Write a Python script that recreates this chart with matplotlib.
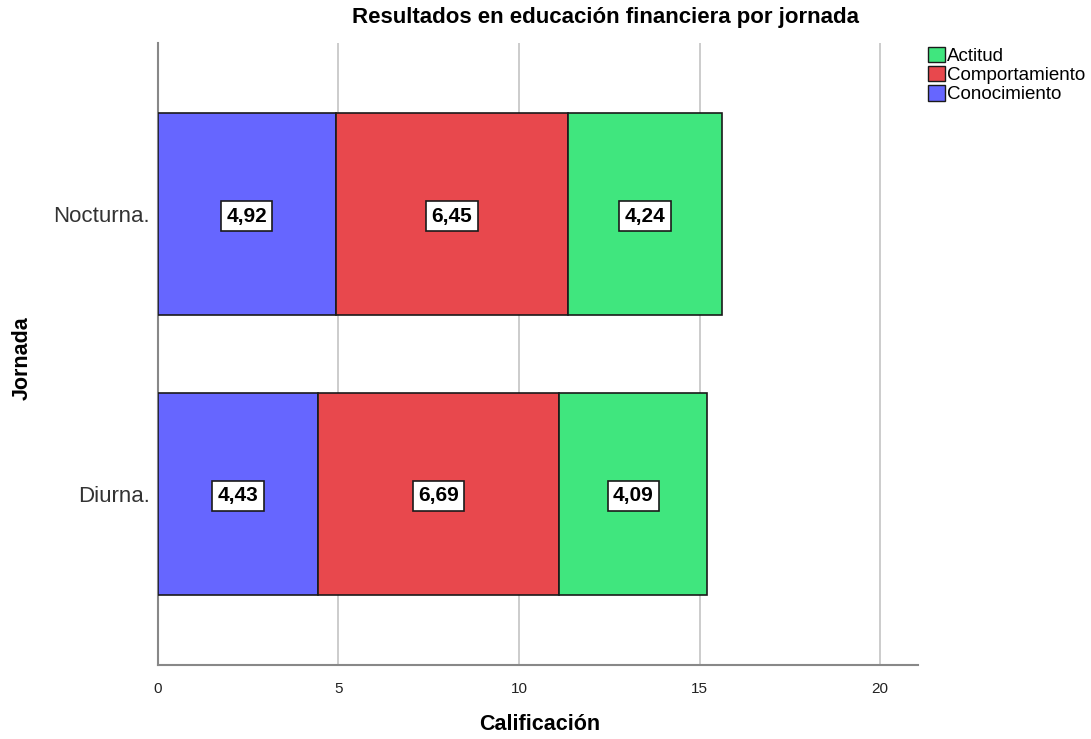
import matplotlib.pyplot as plt
from matplotlib.patches import Patch

plt.rcParams['font.family'] = ['Liberation Sans', 'DejaVu Sans']

jornadas = ['Diurna.', 'Nocturna.']
conocimiento = [4.43, 4.92]
comportamiento = [6.69, 6.45]
actitud = [4.09, 4.24]

series = [('Conocimiento', conocimiento, '#6666FF'),
          ('Comportamiento', comportamiento, '#E8484D'),
          ('Actitud', actitud, '#40E67E')]

fig = plt.figure(figsize=(10.91, 7.39), dpi=100)
ax = fig.add_axes([0.1448, 0.1001, 0.6966, 0.8417])

ypos = list(range(len(jornadas)))
left = [0.0] * len(jornadas)
for name, vals, col in series:
    ax.barh(ypos, vals, left=left, height=0.72, color=col,
            edgecolor='#1a1a1a', linewidth=1.2, zorder=3)
    for y, l, v in zip(ypos, left, vals):
        ax.text(l + v / 2, y, f'{v:.2f}'.replace('.', ','), ha='center', va='center_baseline',
                fontsize=15, fontweight='bold', zorder=5,
                bbox=dict(boxstyle='square,pad=0.25', fc='white', ec='#1a1a1a', lw=1.2))
    left = [a + b for a, b in zip(left, vals)]

ax.set_xlim(0, 21.05)
ax.set_ylim(-0.611, 1.611)
ax.set_xticks([0, 5, 10, 15, 20])
ax.set_yticks(ypos)
ax.set_yticklabels(jornadas, fontsize=16, color='#333333')
ax.tick_params(axis='x', labelsize=11, length=0, pad=12, colors='#222222')
ax.tick_params(axis='y', length=0, pad=6)
ax.xaxis.grid(True, color='#c8c8c8', linewidth=1.3, zorder=0)
ax.set_axisbelow(True)
for s in ['top', 'right']:
    ax.spines[s].set_visible(False)
for s in ['left', 'bottom']:
    ax.spines[s].set_color('#888888')
    ax.spines[s].set_linewidth(1.5)

fig.text(540 / 1091, 1 - 724 / 739, 'Calificación', ha='center', va='center',
         fontsize=15.5, fontweight='bold')
fig.text(22 / 1091, 1 - 358 / 739, 'Jornada', ha='center', va='center',
         rotation=90, fontsize=15.5, fontweight='bold')

fig.text(605 / 1091, 1 - 18 / 739, 'Resultados en educación financiera por jornada',
         ha='center', va='center', fontsize=16, fontweight='bold')

handles = [Patch(facecolor=c, edgecolor='#1a1a1a', label=n) for n, _, c in reversed(series)]
fig.legend(handles=handles, loc='upper left', bbox_to_anchor=(0.840, 0.952),
           frameon=False, fontsize=13.5, handlelength=0.9, handleheight=0.9,
           handletextpad=0.15, labelspacing=0.05, borderpad=0.1)

fig.savefig('out.png', dpi=100)
